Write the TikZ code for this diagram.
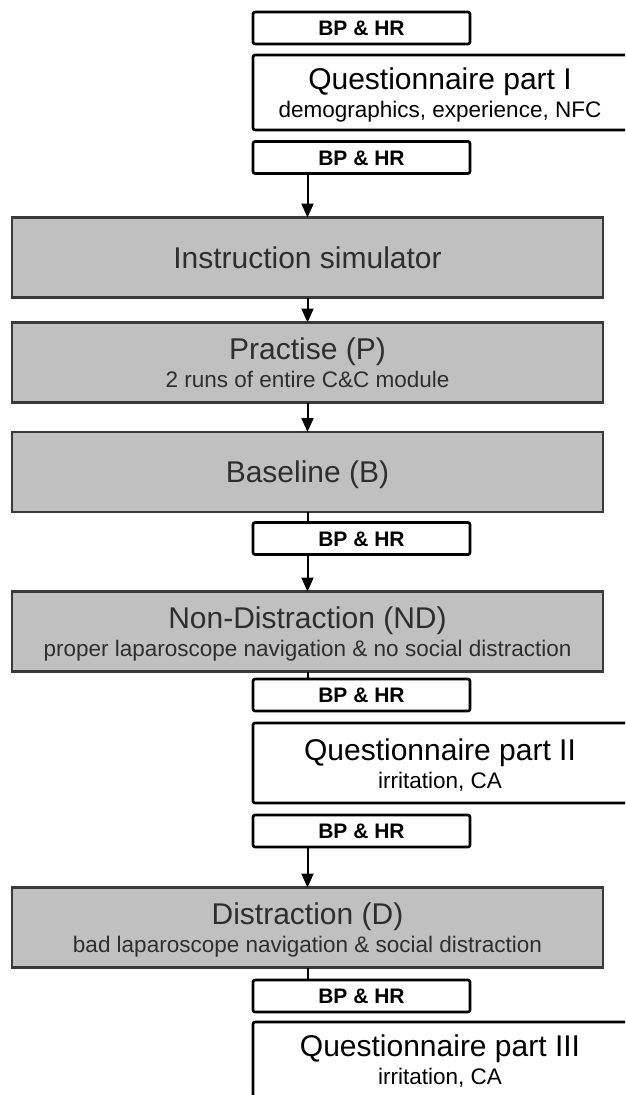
\documentclass[tikz,border=0pt]{standalone}
\usepackage{fontspec}
\setmainfont{Liberation Sans}
\usetikzlibrary{arrows.meta}
\definecolor{boxgrey}{HTML}{C0C0C0}
\definecolor{edgegrey}{HTML}{3A3A3A}
\definecolor{txtgrey}{HTML}{2E2E2E}
\begin{document}
\begin{tikzpicture}[x=1pt,y=-1pt,
  greybox/.style={draw=edgegrey,fill=boxgrey,line width=2.5pt,minimum width=591pt,minimum height=80pt,inner sep=0pt,outer sep=0pt},
  bpbox/.style={draw=black,fill=white,line width=2.6pt,rounded corners=2pt,minimum width=217pt,minimum height=32pt,inner sep=0pt,outer sep=0pt},
  qbox/.style={draw=black,fill=white,line width=2.6pt,rounded corners=2pt,minimum width=376pt,inner sep=0pt,outer sep=0pt},
  ttl/.style={anchor=base,inner sep=0pt,font=\fontsize{30}{36}\selectfont},
  subt/.style={anchor=base,inner sep=0pt,font=\fontsize{22.5}{27}\selectfont},
  bptxt/.style={anchor=base,inner sep=0pt,font=\fontsize{21}{25}\selectfont\bfseries},
  greytxt/.style={text=txtgrey},
  arr/.style={line width=2pt,-{Triangle[length=14pt,width=12pt]}},
  link/.style={line width=2pt}]
\useasboundingbox (0,0) rectangle (625,1095);
\clip (0,0) rectangle (625,1095);
\fill[white] (0,0) rectangle (625,1095);

% white boxes
\node[bpbox] (bp1) at (361.5,28) {};
\node[bptxt] (bp1t) at (361.5,35.5) {BP \& HR};
\node[qbox,minimum height=75pt] (q1) at (441,92.5) {};
\node[ttl] (q1t) at (440,89.5) {Questionnaire part I};
\node[subt] (q1s) at (440,117.5) {demographics, experience, NFC};
\node[bpbox] (bp2) at (361.5,157.5) {};
\node[bptxt] (bp2t) at (361.5,165) {BP \& HR};

% grey boxes
\node[greybox] (ins) at (307.5,257.5) {};
\node[ttl,greytxt] (inst) at (307.5,268) {Instruction simulator};
\node[greybox] (pra) at (307.5,362.5) {};
\node[ttl,greytxt] (prat) at (307.5,359.5) {Practise (P)};
\node[subt,greytxt] (pras) at (307.5,387.5) {2 runs of entire C\&C module};
\node[greybox] (bas) at (307.5,472) {};
\node[ttl,greytxt] (bast) at (307.5,482.5) {Baseline (B)};
\node[bpbox] (bp3) at (361.5,538.5) {};
\node[bptxt] (bp3t) at (361.5,546) {BP \& HR};
\node[greybox] (nd) at (307.5,631.5) {};
\node[ttl,greytxt] (ndt) at (307.5,628.5) {Non-Distraction (ND)};
\node[subt,greytxt] (nds) at (307.5,656.5) {proper laparoscope navigation \& no social distraction};
\node[bpbox] (bp4) at (361.5,695) {};
\node[bptxt] (bp4t) at (361.5,702.5) {BP \& HR};
\node[qbox,minimum height=80pt] (q2) at (441,763) {};
\node[ttl] (q2t) at (440,760) {Questionnaire part II};
\node[subt] (q2s) at (440,788) {irritation, CA};
\node[bpbox] (bp5) at (361.5,831) {};
\node[bptxt] (bp5t) at (361.5,838.5) {BP \& HR};
\node[greybox] (dis) at (307.5,927.5) {};
\node[ttl,greytxt] (dist) at (307.5,924.5) {Distraction (D)};
\node[subt,greytxt] (diss) at (307.5,952.5) {bad laparoscope navigation \& social distraction};
\node[bpbox] (bp6) at (361.5,996) {};
\node[bptxt] (bp6t) at (361.5,1003.5) {BP \& HR};
\node[qbox,minimum height=100pt] (q3) at (441,1072) {};
\node[ttl] (q3t) at (440,1056) {Questionnaire part III};
\node[subt] (q3s) at (440,1084) {irritation, CA};

% connectors
\draw[arr] (bp2.south -| ins.north) -- (ins.north);
\draw[arr] (ins.south) -- (pra.north);
\draw[arr] (pra.south) -- (bas.north);
\draw[link] (bas.south) -- (bas.south |- bp3.north);
\draw[arr] (bp3.south -| nd.north) -- (nd.north);
\draw[link] (nd.south) -- (nd.south |- bp4.north);
\draw[arr] (bp5.south -| dis.north) -- (dis.north);
\draw[link] (dis.south) -- (dis.south |- bp6.north);
\end{tikzpicture}
\end{document}
